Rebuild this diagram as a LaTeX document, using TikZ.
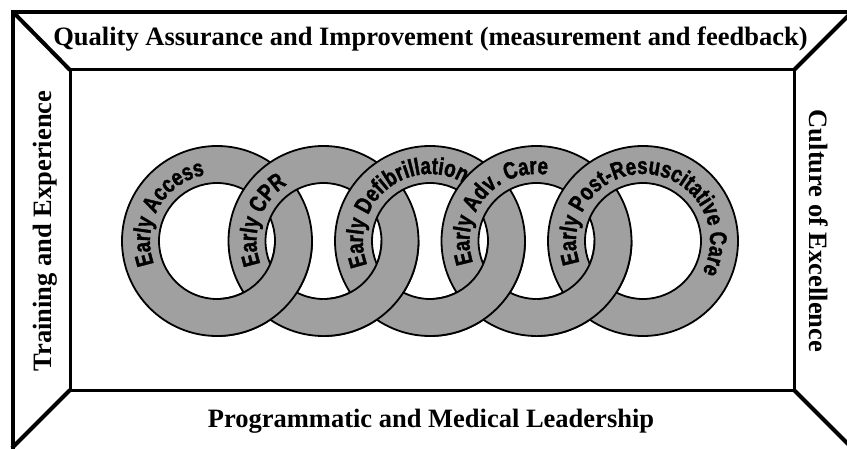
\documentclass[tikz,border=0pt]{standalone}
\usepackage{fontspec}
\setmainfont{Liberation Serif}
% heavy, narrowed sans for the ring lettering
\font\ringprim="Liberation Sans/B:extend=0.78;embolden=1.5" at 24pt
\usetikzlibrary{decorations.text}

\definecolor{ringgray}{RGB}{160,160,160}
\newcommand\ringletters{\ringprim}

\tikzset{
  heading/.style={font=\fontsize{26.5}{30}\selectfont\bfseries, inner sep=0pt, anchor=base},
  frameline/.style={line width=4pt, line join=miter},
  innerline/.style={line width=3pt, line join=miter},
  ringband/.style={fill=ringgray, even odd rule},
  ringedge/.style={draw=black, line width=1.8pt},
  ringtext/.style={decorate, decoration={text along path, text align=left,
      text={|\ringletters|#1}}},
}

\begin{document}
\begin{tikzpicture}[x=1pt, y=1pt]
  \useasboundingbox (0,0) rectangle (847,448);
  \clip (0,0) rectangle (847,448);
  \fill[white] (0,0) rectangle (847,448);

  % corners of the outer and inner frames
  \coordinate (oTL) at (13,436);
  \coordinate (oTR) at (852,436);
  \coordinate (oBR) at (852,0);
  \coordinate (oBL) at (12,0);
  \coordinate (oFar) at (870,-20);
  \coordinate (iTL) at (70,378);
  \coordinate (iTR) at (794,378);
  \coordinate (iBR) at (794,58);
  \coordinate (iBL) at (70,58);

  \draw[frameline] (oTL) rectangle (oFar);
  \draw[innerline] (iTL) rectangle (iBR);
  \draw[frameline] (oTL) -- (iTL);
  \draw[frameline] (oTR) -- (iTR);
  \draw[frameline] (oBR) -- (iBR);
  \draw[frameline] (oBL) -- (iBL);

  % side labels
  \node[heading] (quality) at (430.5,402) {Quality Assurance and Improvement (measurement and feedback)};
  \node[heading] (leadership) at (431,21) {Programmatic and Medical Leadership};
  \node[heading, rotate=90] (training) at (51,217) {Training and Experience};
  \node[heading, rotate=-90] (culture) at (809,217) {Culture of Excellence};

  % ring centres
  \coordinate (r1) at (217,207);
  \coordinate (r2) at (323.5,207);
  \coordinate (r3) at (430,207);
  \coordinate (r4) at (536.5,207);
  \coordinate (r5) at (643,207);

  % the five rings, each one above its left neighbour
  \fill[ringband] (r1) circle[radius=95pt] (r1) circle[radius=58pt];
  \draw[ringedge] (r1) circle[radius=95pt] (r1) circle[radius=58pt];
  \path[ringtext={Early Access}] (r1) ++(200:67pt) arc[start angle=200, end angle=-100, radius=67pt];

  \fill[ringband] (r2) circle[radius=95pt] (r2) circle[radius=58pt];
  \draw[ringedge] (r2) circle[radius=95pt] (r2) circle[radius=58pt];
  \path[ringtext={Early CPR}] (r2) ++(200:67pt) arc[start angle=200, end angle=-100, radius=67pt];

  \fill[ringband] (r3) circle[radius=95pt] (r3) circle[radius=58pt];
  \draw[ringedge] (r3) circle[radius=95pt] (r3) circle[radius=58pt];
  \path[ringtext={Early Defibrillation}] (r3) ++(201:67pt) arc[start angle=201, end angle=-100, radius=67pt];

  \fill[ringband] (r4) circle[radius=95pt] (r4) circle[radius=58pt];
  \draw[ringedge] (r4) circle[radius=95pt] (r4) circle[radius=58pt];
  \path[ringtext={Early Adv. Care}] (r4) ++(199:67pt) arc[start angle=199, end angle=-100, radius=67pt];

  \fill[ringband] (r5) circle[radius=95pt] (r5) circle[radius=58pt];
  \draw[ringedge] (r5) circle[radius=95pt] (r5) circle[radius=58pt];
  \path[ringtext={Early Post-Resuscitative Care}] (r5) ++(199:67pt) arc[start angle=199, end angle=-100, radius=67pt];

  % lower crossings: the left ring passes over its right neighbour
  \begin{scope}
    \clip (217,0) rectangle (323.5,207);
    \fill[ringband] (r1) circle[radius=95pt] (r1) circle[radius=58pt];
    \draw[ringedge] (r1) circle[radius=95pt] (r1) circle[radius=58pt];
  \end{scope}
  \begin{scope}
    \clip (323.5,0) rectangle (430,207);
    \fill[ringband] (r2) circle[radius=95pt] (r2) circle[radius=58pt];
    \draw[ringedge] (r2) circle[radius=95pt] (r2) circle[radius=58pt];
  \end{scope}
  \begin{scope}
    \clip (430,0) rectangle (536.5,207);
    \fill[ringband] (r3) circle[radius=95pt] (r3) circle[radius=58pt];
    \draw[ringedge] (r3) circle[radius=95pt] (r3) circle[radius=58pt];
  \end{scope}
  \begin{scope}
    \clip (536.5,0) rectangle (643,207);
    \fill[ringband] (r4) circle[radius=95pt] (r4) circle[radius=58pt];
    \draw[ringedge] (r4) circle[radius=95pt] (r4) circle[radius=58pt];
  \end{scope}
\end{tikzpicture}
\end{document}
